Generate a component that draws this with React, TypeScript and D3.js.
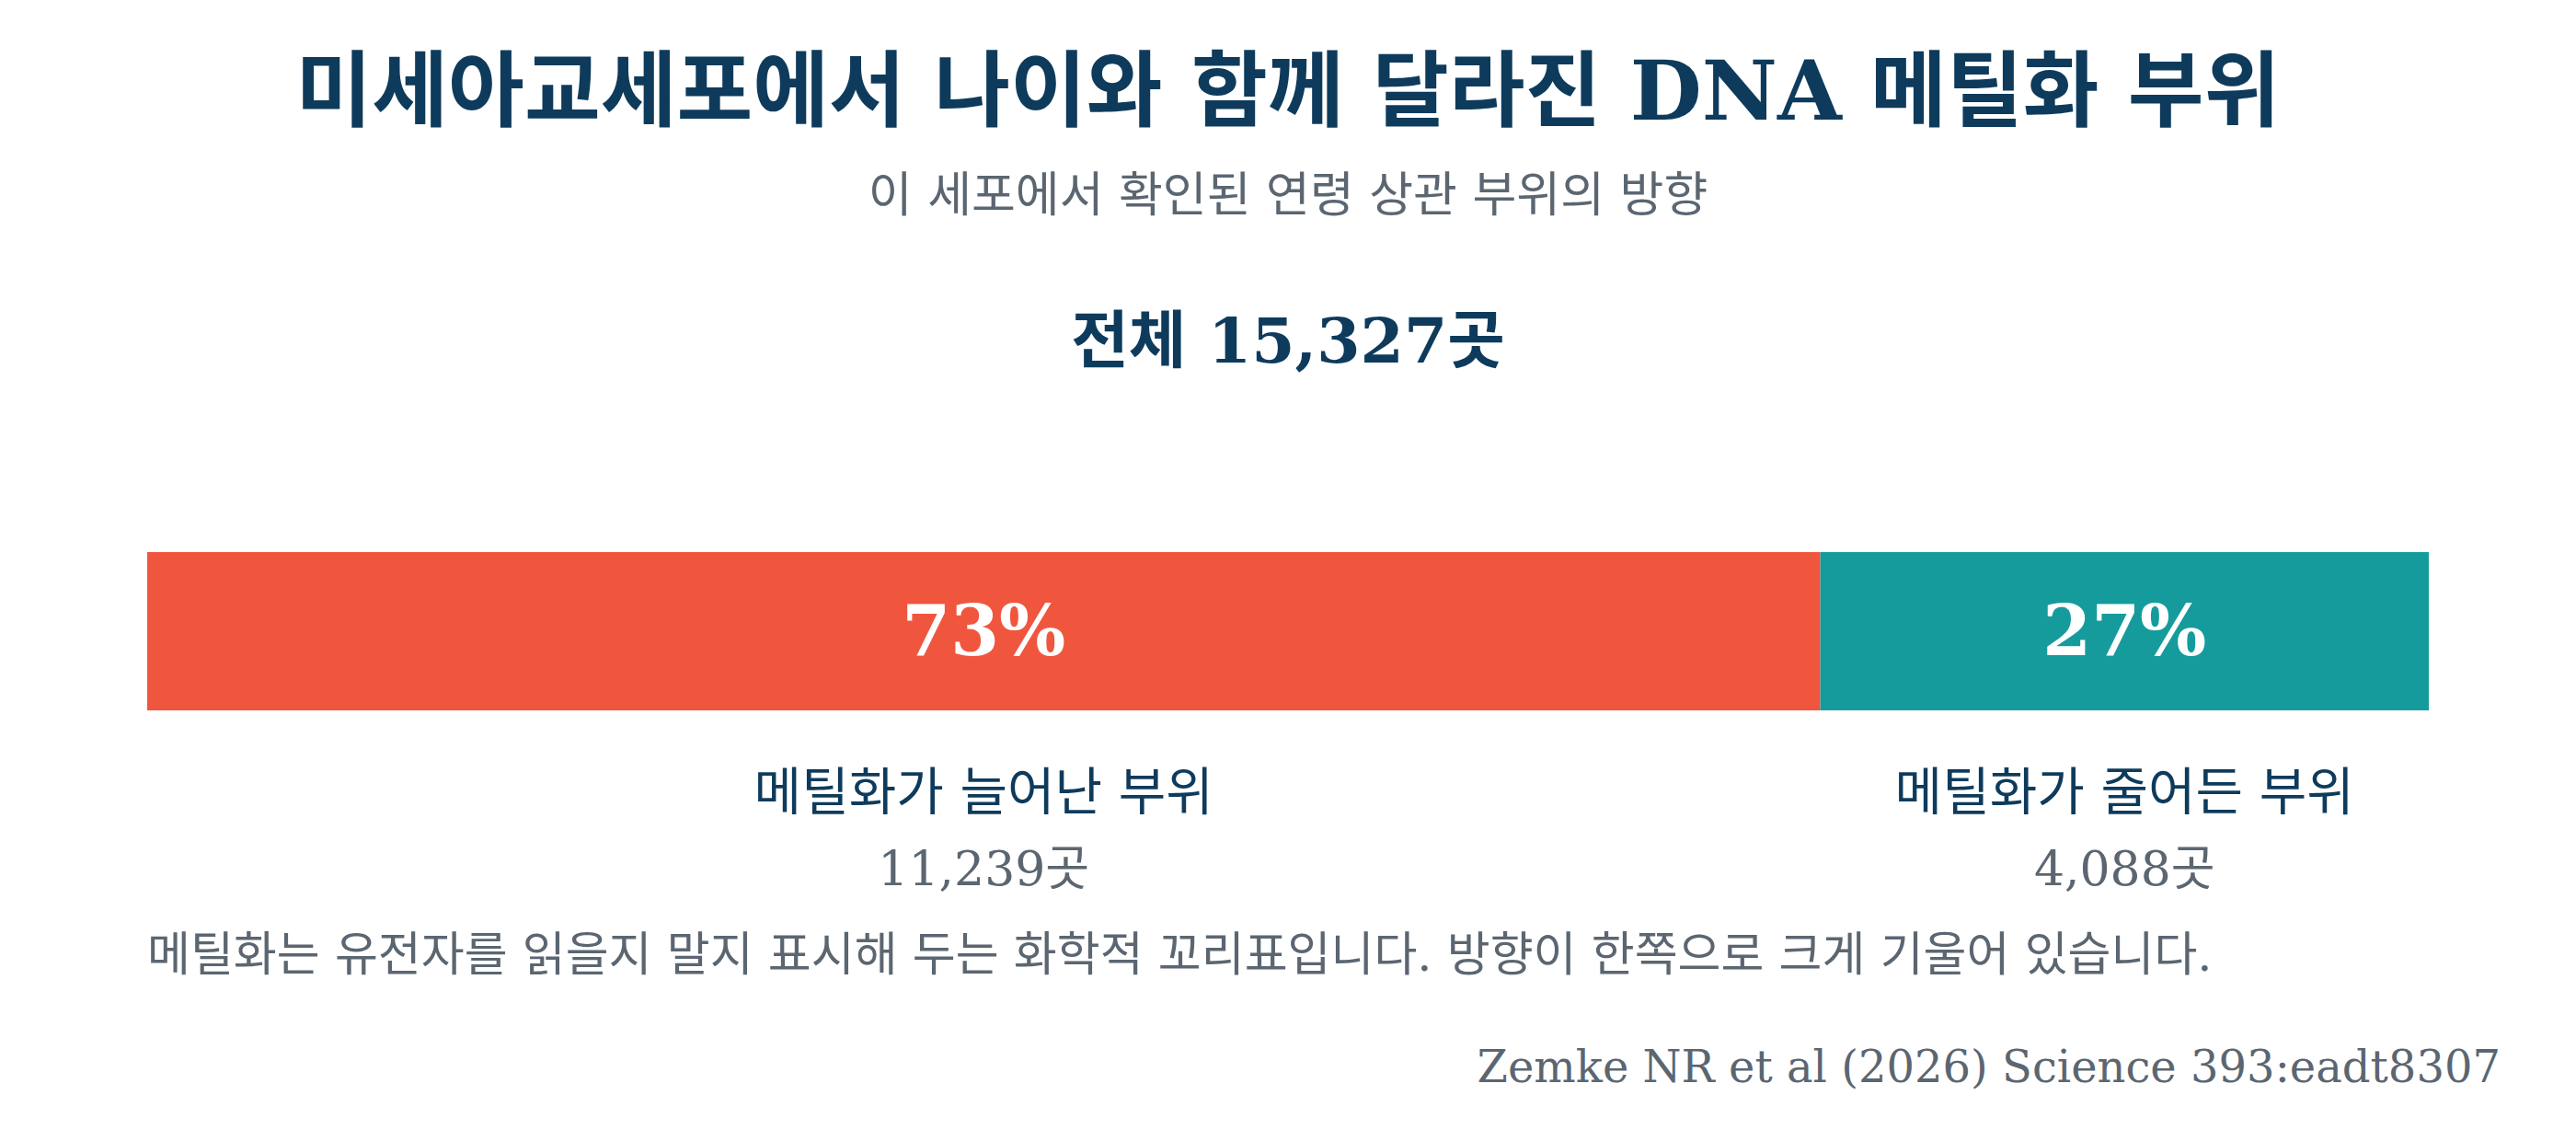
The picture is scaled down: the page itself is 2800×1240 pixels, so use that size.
import React from "react";
import * as d3 from "d3";

const categories = ["메틸화가 늘어난 부위", "메틸화가 줄어든 부위"];
const counts = [11239, 4088];
const colors = ["#f0563e", "#169b9d"];
const titleText = "미세아교세포에서 나이와 함께 달라진 DNA 메틸화 부위";
const subtitleText = "이 세포에서 확인된 연령 상관 부위의 방향";
const noteText = "메틸화는 유전자를 읽을지 말지 표시해 두는 화학적 꼬리표입니다. 방향이 한쪽으로 크게 기울어 있습니다.";
const sourceText = "Zemke NR et al (2026) Science 393:eadt8307";

const W = 2800;
const H = 1240;
const FONT = "'DejaVu Serif', 'Noto Sans CJK KR', serif";
const NAVY = "#0e3b5c";
const GRAY = "#5b6671";

export default function App() {
  const total = d3.sum(counts);
  const x = d3.scaleLinear().domain([0, total]).range([160, 2640]);
  const starts = d3.cumsum([0, ...counts]).slice(0, counts.length);
  const fmt = d3.format(",");
  const barTop = 600;
  const barH = 172;
  return (
    <svg width={W} height={H} style={{ display: "block", margin: "-8px", background: "#fff" }} fontFamily={FONT}>
      <text x={1400} y={130} textAnchor="middle" fontSize={90} fontWeight="bold" fill={NAVY}>{titleText}</text>
      <text x={1400} y={230} textAnchor="middle" fontSize={52} fill={GRAY}>{subtitleText}</text>
      <text x={1400} y={394} textAnchor="middle" fontSize={68} fontWeight="bold" fill={NAVY}>{`전체 ${fmt(total)}곳`}</text>
      {counts.map((c, i) => {
        const x0 = x(starts[i]);
        const x1 = x(starts[i] + c);
        const cx = (x0 + x1) / 2;
        return (
          <g key={i}>
            <rect x={x0} y={barTop} width={x1 - x0} height={barH} fill={colors[i]} />
            <text x={cx} y={712} textAnchor="middle" fontSize={76} fontWeight="bold" fill="#fff">{`${Math.round((c / total) * 100)}%`}</text>
            <text x={cx} y={880} textAnchor="middle" fontSize={56} fill={NAVY}>{categories[i]}</text>
            <text x={cx} y={962} textAnchor="middle" fontSize={52} fill={GRAY}>{`${fmt(c)}곳`}</text>
          </g>
        );
      })}
      <text x={160} y={1055} fontSize={51} fill={GRAY}>{noteText}</text>
      <text x={2718} y={1176} textAnchor="end" fontSize={48} fill={GRAY}>{sourceText}</text>
    </svg>
  );
}
